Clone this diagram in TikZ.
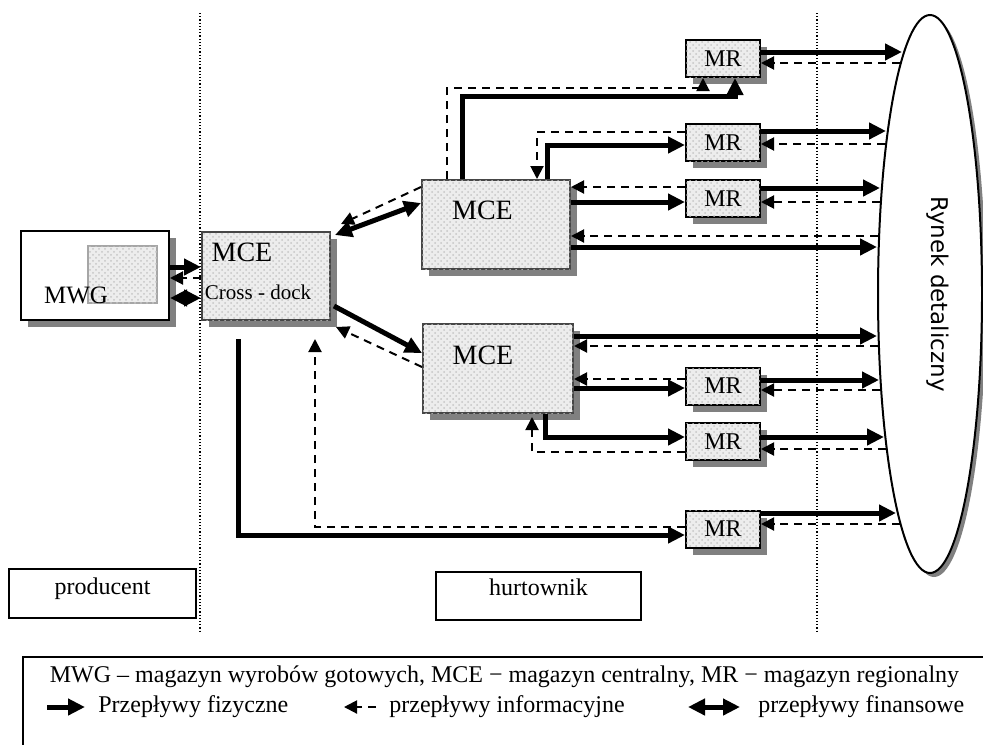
\documentclass[tikz,border=0pt]{standalone}
\usepackage{fontspec}
\setmainfont{Liberation Serif}
\newfontfamily\marketfont{DejaVu Sans}
\usetikzlibrary{arrows.meta,shapes.geometric,shadows,patterns}

\tikzset{
  stipple/.style={fill=gray!14, postaction={pattern=crosshatch dots, pattern color=gray!45}},
  shade7/.style={drop shadow={shadow xshift=3.5pt, shadow yshift=-3.5pt, fill=black!50, opacity=1}},
  whitebox/.style={rectangle, inner sep=0pt, draw=black, line width=1pt, fill=white},
  store/.style={rectangle, inner sep=0pt, draw=gray!55!black, line width=1pt, stipple},
  mrbox/.style={rectangle, inner sep=0pt, draw=black, line width=1pt, stipple, shade7,
    minimum width=37pt, minimum height=18.5pt, font=\fontsize{12}{14}\selectfont},
  phys/.style={line width=2.5pt, -{Triangle[length=8.5pt,width=8pt]}},
  info/.style={line width=1pt, dash pattern=on 4pt off 3pt, -{Triangle[length=6.5pt,width=6.5pt]}},
  fin/.style={line width=2.5pt, {Triangle[length=8.5pt,width=8pt]}-{Triangle[length=8.5pt,width=8pt]}},
  zone/.style={line width=0.6pt, dash pattern=on 0.6pt off 1pt},
  txt12/.style={inner sep=0pt, font=\fontsize{12}{14}\selectfont},
}

\begin{document}
\begin{tikzpicture}[x=0.5pt, y=-0.5pt]
\useasboundingbox (0,0) rectangle (983,744);

% separators between producer, wholesaler and market
\draw[zone] (200,13) -- (200,633);
\draw[zone] (817,13) -- (817,633);

% retail market
\node[ellipse, draw=black, line width=1pt, fill=white, inner sep=0pt,
  minimum width=52pt, minimum height=279pt,
  drop shadow={shadow xshift=2pt, shadow yshift=-2pt, fill=black!50, opacity=1}] (mkt) at (930,294) {};
\node[rotate=-90, font=\marketfont\fontsize{11.5}{14}\selectfont] (mktname) at (938,294) {Rynek detaliczny};

% producer's finished-goods store
\node[whitebox, shade7, minimum width=74pt, minimum height=44.5pt] (mwg) at (95,275.5) {};
\node[store, draw=gray!70, minimum width=34.5pt, minimum height=28.5pt] (mwgin) at (122.5,274.5) {};
\node[inner sep=0pt, font=\fontsize{12.5}{15}\selectfont] (mwgname) at (76,295) {MWG};

% cross-dock central store
\node[store, shade7, minimum width=64pt, minimum height=44pt] (cd) at (266,276) {};
\node[inner sep=0pt, font=\fontsize{14}{16}\selectfont] (cdname) at (242,252) {MCE};
\node[inner sep=0pt, font=\fontsize{10.5}{12}\selectfont] (cdsub) at (258,292) {Cross - dock};

% central stores
\node[store, shade7, minimum width=74pt, minimum height=44.5pt] (mce1) at (496,224.5) {};
\node[inner sep=0pt, font=\fontsize{14}{16}\selectfont] (mce1name) at (482.5,210) {MCE};
\node[store, shade7, minimum width=75pt, minimum height=44.5pt] (mce2) at (498,368.5) {};
\node[inner sep=0pt, font=\fontsize{14}{16}\selectfont] (mce2name) at (483,355) {MCE};

% regional stores
\node[mrbox] (mr1) at (723,58.5) {MR};
\node[mrbox] (mr2) at (723,142.5) {MR};
\node[mrbox] (mr3) at (723,198.5) {MR};
\node[mrbox] (mr4) at (723,386) {MR};
\node[mrbox] (mr5) at (723,441.5) {MR};
\node[mrbox] (mr6) at (723,529) {MR};

% zone labels
\node[whitebox, minimum width=93.5pt, minimum height=24.5pt] (prod) at (102.5,593.5) {};
\node[txt12, anchor=base] (prodtxt) at (102.5,594) {producent};
\node[whitebox, minimum width=102.5pt, minimum height=24pt] (hurt) at (538.5,596) {};
\node[txt12, anchor=base] (hurttxt) at (538.5,595) {hurtownik};

% points where the flows meet the market
\coordinate (e1p) at (902,52);  \coordinate (e1i) at (900,63);
\coordinate (e2p) at (886,131); \coordinate (e2i) at (885,144);
\coordinate (e3p) at (880,188); \coordinate (e3i) at (880,202);
\coordinate (e4i) at (878,236); \coordinate (e4p) at (877,247);
\coordinate (e5p) at (877,336); \coordinate (e5i) at (878,346);
\coordinate (e6p) at (879,380); \coordinate (e6i) at (880,390);
\coordinate (e7p) at (884,437); \coordinate (e7i) at (886,449);
\coordinate (e8p) at (896,513); \coordinate (e8i) at (900,524);

% producer <-> cross-dock
\draw[phys] (mwg.east |- 0,267) -- (cd.west |- 0,267);
\draw[info] (cd.west |- 0,278) -- (mwg.east |- 0,278);
\draw[fin]  (mwg.east |- 0,298) -- (cd.west |- 0,298);

% cross-dock <-> central stores
\draw[fin]  ([shift={(4,4)}]cd.north east) -- (mce1.west |- 0,203);
\draw[info] (mce1.west |- 0,187) -- ([shift={(10,-7)}]cd.north east);
\draw[phys] ([shift={(3,-15)}]cd.south east) -- (mce2.west |- 0,353);
\draw[info] (mce2.west |- 0,367) -- ([shift={(5,6)}]cd.south east);

% cross-dock -> regional store
\path (cd.south -| 238,0) ++(0,18) coordinate (cdout);
\path (cd.south -| 315,0) ++(0,18) coordinate (cdin);
\draw[phys] (cdout) |- (mr6.west |- 0,535);
\draw[info] (mr6.west |- 0,527) -| (cdin);

% upper central store -> regional stores
\draw[phys] (mce1.north -| 462,0) -- ++(0,-83) -| (mr1.south -| 735,0);
\draw[info] (mce1.north -| 447,0) -- ++(0,-91) -| (mr1.south -| 703,0);
\draw[phys] (mce1.north -| 547,0) |- (mr2.west |- 0,145);
\draw[info] (mr2.west |- 0,132) -| (mce1.north -| 537,0);
\draw[phys] (mce1.east |- 0,202) -- (mr3.west |- 0,202);
\draw[info] (mr3.west |- 0,187) -- (mce1.east |- 0,187);

% lower central store -> regional stores
\draw[info] (mr4.west |- 0,379) -- (mce2.east |- 0,379);
\draw[phys] (mce2.east |- 0,388) -- (mr4.west |- 0,388);
\path (mce2.south -| 532,0) ++(0,3) coordinate (m2in);
\draw[phys] (mce2.south -| 545,0) |- (mr5.west |- 0,437);
\draw[info] (mr5.west |- 0,452) -| (m2in);

% flows to and from the market
\draw[phys] (mr1.east |- 0,52) -- (e1p);
\draw[info] (e1i) -- (mr1.east |- 0,63);
\draw[phys] (mr2.east |- 0,131) -- (e2p);
\draw[info] (e2i) -- (mr2.east |- 0,144);
\draw[phys] (mr3.east |- 0,188) -- (e3p);
\draw[info] (e3i) -- (mr3.east |- 0,202);
\draw[info] (e4i) -- (mce1.east |- 0,236);
\draw[phys] (mce1.east |- 0,247) -- (e4p);
\draw[phys] (mce2.east |- 0,336) -- (e5p);
\draw[info] (e5i) -- (mce2.east |- 0,346);
\draw[phys] (mr4.east |- 0,380) -- (e6p);
\draw[info] (e6i) -- (mr4.east |- 0,390);
\draw[phys] (mr5.east |- 0,437) -- (e7p);
\draw[info] (e7i) -- (mr5.east |- 0,449);
\draw[phys] (mr6.east |- 0,513) -- (e8p);
\draw[info] (e8i) -- (mr6.east |- 0,524);

% legend
\draw[line width=1pt] (23,657) rectangle (1000,800);
\node[txt12, anchor=base] (leg1) at (504.5,682)
  {MWG – magazyn wyrobów gotowych, MCE − magazyn centralny, MR − magazyn regionalny};
\coordinate (lp1) at (47,707);  \coordinate (lp2) at (85,707);
\coordinate (li1) at (376,707); \coordinate (li2) at (344,707);
\coordinate (lf1) at (688,707); \coordinate (lf2) at (740,707);
\draw[phys] (lp1) -- (lp2);
\draw[info] (li1) -- (li2);
\draw[fin]  (lf1) -- (lf2);
\node[txt12, anchor=base west] (legp) at (98,712) {Przepływy fizyczne};
\node[txt12, anchor=base west] (legi) at (389,712) {przepływy informacyjne};
\node[txt12, anchor=base west] (legf) at (758,712) {przepływy finansowe};
\end{tikzpicture}
\end{document}
